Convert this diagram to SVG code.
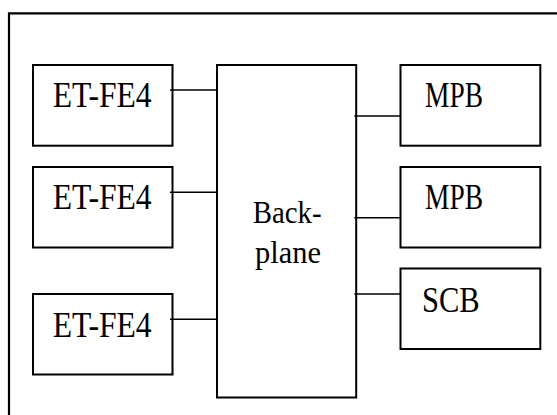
<svg xmlns="http://www.w3.org/2000/svg" width="557" height="415" viewBox="0 0 557 415">
<style>
.box{fill:#fff;stroke:#000;stroke-width:2}
.frame{fill:none;stroke:#000;stroke-width:2.2}
.conn{stroke:#000;stroke-width:1.6;fill:none}
</style>
<rect width="557" height="415" fill="#fff"/>
<path class="frame" d="M9,415 V13.3 H557"/>
<g font-family="Liberation Serif, Times New Roman, serif" font-size="35" fill="#000">
<g id="etfe4-1"><rect class="box" x="33" y="65" width="139.5" height="80.7"/><text x="52.7" y="107.3" textLength="99" lengthAdjust="spacingAndGlyphs">ET-FE4</text></g>
<g id="etfe4-2"><rect class="box" x="33" y="167" width="139.5" height="80.5"/><text x="52.7" y="209.3" textLength="99" lengthAdjust="spacingAndGlyphs">ET-FE4</text></g>
<g id="etfe4-3"><rect class="box" x="33" y="294" width="139.5" height="80.5"/><text x="52.7" y="336.5" textLength="99" lengthAdjust="spacingAndGlyphs">ET-FE4</text></g>
<g id="backplane"><rect class="box" x="217" y="65" width="139.2" height="332.5"/><text x="252.7" y="223.3" font-size="32" textLength="69" lengthAdjust="spacingAndGlyphs">Back-</text><text x="255" y="263.3" font-size="32" textLength="66" lengthAdjust="spacingAndGlyphs">plane</text></g>
<g id="mpb-1"><rect class="box" x="400.5" y="65" width="139.8" height="80.7"/><text x="425" y="106.7" textLength="58" lengthAdjust="spacingAndGlyphs">MPB</text></g>
<g id="mpb-2"><rect class="box" x="400.5" y="167" width="139.8" height="80.5"/><text x="425" y="208.7" textLength="58" lengthAdjust="spacingAndGlyphs">MPB</text></g>
<g id="scb"><rect class="box" x="400.5" y="268.5" width="139.8" height="80.5"/><text x="422" y="312.3" textLength="57.7" lengthAdjust="spacingAndGlyphs">SCB</text></g>
</g>
<g id="connectors">
<path class="conn" d="M170,90 H217"/>
<path class="conn" d="M170,192.3 H217"/>
<path class="conn" d="M170,319.3 H217"/>
<path class="conn" d="M354.3,116 H400.5"/>
<path class="conn" d="M354.3,217.7 H400.5"/>
<path class="conn" d="M354.3,294 H400.5"/>
</g>
</svg>
